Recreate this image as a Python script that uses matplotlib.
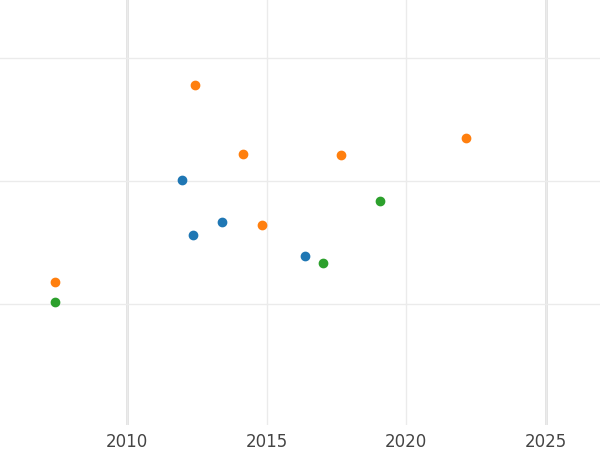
import matplotlib.pyplot as plt

blue_x = [2011.97, 2012.36, 2013.40, 2016.37]
blue_y = [1.01, 0.56, 0.67, 0.39]
orange_x = [2007.42, 2012.43, 2014.15, 2014.83, 2017.66, 2022.14]
orange_y = [0.18, 1.78, 1.22, 0.64, 1.21, 1.35]
green_x = [2007.42, 2017.02, 2019.06]
green_y = [0.02, 0.33, 0.84]
year_ticks = [2010, 2015, 2020, 2025]

fig = plt.figure(figsize=(6, 4.5), dpi=100)
ax = fig.add_axes([0, 0.056, 1, 0.944])

ax.scatter(blue_x, blue_y, s=36, color='#1f77b4', zorder=3)
ax.scatter(orange_x, orange_y, s=36, color='#ff7f0e', zorder=3)
ax.scatter(green_x, green_y, s=36, color='#2ca02c', zorder=3)

ax.set_xlim(2005.45, 2026.94)
ax.set_ylim(-0.98, 2.47)
ax.set_xticks(year_ticks)
ax.set_yticks([0, 1, 2])
ax.set_yticklabels([])
ax.grid(True, color='#ebebeb', linewidth=1)
for yr in (2010, 2025):
    ax.axvline(yr, color='#e0e0e0', linewidth=2, zorder=1)
ax.tick_params(length=0, labelsize=12, labelcolor='#444444', pad=6)
for s in ax.spines.values():
    s.set_visible(False)

fig.savefig('out.png', dpi=100)
